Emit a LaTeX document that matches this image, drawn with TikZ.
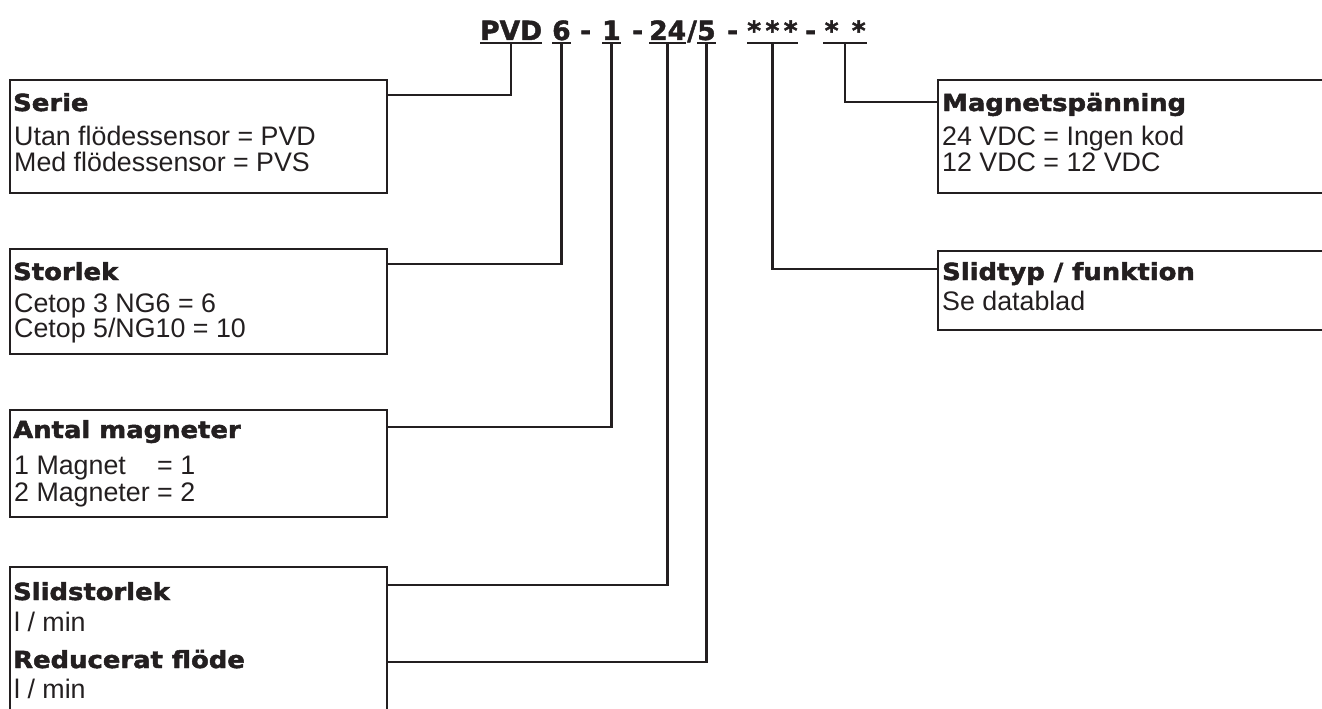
\documentclass[tikz,border=0pt]{standalone}
\usepackage{fontspec}
\setmainfont{Liberation Sans}
\newfontfamily\headfont{DejaVu Sans}[FakeStretch=1.1,FakeBold=2]
\newfontfamily\codefont{DejaVu Sans}[FakeBold=1.6]
\definecolor{ink}{RGB}{35,31,32}
\tikzset{
  infobox/.style={draw=ink, line width=1.3pt, anchor=north west, inner sep=0pt, outer sep=0pt},
  headtxt/.style={font=\headfont\bfseries\fontsize{23.5pt}{25pt}\selectfont, text=ink, inner sep=0pt, anchor=base west},
  bodytxt/.style={font=\fontsize{26.8pt}{28pt}\selectfont, text=ink, inner sep=0pt, anchor=base west},
  codetxt/.style={font=\codefont\bfseries\fontsize{26.5pt}{28pt}\selectfont, text=ink, inner sep=0pt, anchor=base west},
  leader/.style={draw=ink, line width=2.5pt},
  uline/.style={draw=ink, line width=2pt}
}

\begin{document}
\begin{tikzpicture}[x=1pt, y=-1pt]
      \clip (0,0) rectangle (1322,709);
      % type code
      \node[codetxt] (pvd) at (480,40) {PVD}; \node[codetxt] (six) at (552,40) {6}; \node[codetxt] (dA) at (580,40) {-};
      \node[codetxt] (one) at (602,40) {1}; \node[codetxt] (dB) at (632,40) {-}; \node[codetxt] (flow) at (649,40) {24};
      \node[codetxt] (slash) at (687,40) {/}; \node[codetxt] (red) at (697,40) {5}; \node[codetxt] (dC) at (727,40) {-};
      \node[codetxt, minimum width=48pt] (spool) at (747,40) {*\,*\,*}; \node[codetxt] (dD) at (805,40) {-};
      \node[codetxt, minimum width=44pt] (volt) at (823,40) {*\,\,\,*};
      \foreach \n in {pvd,six,one,flow,red,spool,volt}
        \draw[uline] ([yshift=-3.5pt]\n.base west) -- ([yshift=-3.5pt]\n.base east);
      % left boxes
      \node[infobox, minimum width=377pt, minimum height=113pt] (serie) at (10,80) {};
      \node[headtxt] (serieH) at (13,111) {Serie};
      \node[bodytxt] (serieA) at (14,145) {Utan flödessensor = PVD}; \node[bodytxt] (serieB) at (14,171) {Med flödessensor = PVS};
      \node[infobox, minimum width=377pt, minimum height=105pt] (size) at (10,249) {};
      \node[headtxt] (sizeH) at (13,280) {Storlek};
      \node[bodytxt] (sizeA) at (14,312) {Cetop 3 NG6 = 6}; \node[bodytxt] (sizeB) at (14,337) {Cetop 5/NG10 = 10};
      \node[infobox, minimum width=377pt, minimum height=107pt] (coils) at (10,410) {};
      \node[headtxt] (coilsH) at (13,438) {Antal magneter};
      \node[bodytxt] (coilsA) at (14,474) {1 Magnet\phantom{er} = 1}; \node[bodytxt] (coilsB) at (14,501) {2 Magneter = 2};
      \node[infobox, minimum width=377pt, minimum height=160pt] (flows) at (10,567) {};
      \node[headtxt] (flowsH) at (13,600) {Slidstorlek}; \node[bodytxt] (flowsA) at (14,631) {l / min};
      \node[headtxt] (redH) at (13,668) {Reducerat flöde}; \node[bodytxt] (redA) at (14,698) {l / min};
      % right boxes
      \node[infobox, minimum width=420pt, minimum height=113pt] (magnet) at (938,80) {};
      \node[headtxt] (magnetH) at (942,111) {Magnetspänning};
      \node[bodytxt] (magnetA) at (942,145) {24 VDC = Ingen kod}; \node[bodytxt] (magnetB) at (942,171) {12 VDC = 12 VDC};
      \node[infobox, minimum width=420pt, minimum height=79pt] (slide) at (938,251) {};
      \node[headtxt] (slideH) at (942,280) {Slidtyp / funktion}; \node[bodytxt] (slideA) at (942,310) {Se datablad};
      % leaders
      \draw[leader] ([yshift=-3.5pt]pvd.base) |- ([yshift=-15pt]serie.north east);
      \draw[leader] ([yshift=-3.5pt]six.base) |- ([yshift=-15pt]size.north east);
      \draw[leader] ([yshift=-3.5pt]one.base) |- ([yshift=-17pt]coils.north east);
      \draw[leader] ([yshift=-3.5pt]flow.base) |- ([yshift=-18pt]flows.north east);
      \draw[leader] ([yshift=-3.5pt]red.base) |- ([yshift=-95pt]flows.north east);
      \draw[leader] ([yshift=-3.5pt]spool.base) |- ([yshift=-18pt]slide.north west);
      \draw[leader] ([yshift=-3.5pt]volt.base) |- ([yshift=-22pt]magnet.north west);
    \end{tikzpicture}
\end{document}
